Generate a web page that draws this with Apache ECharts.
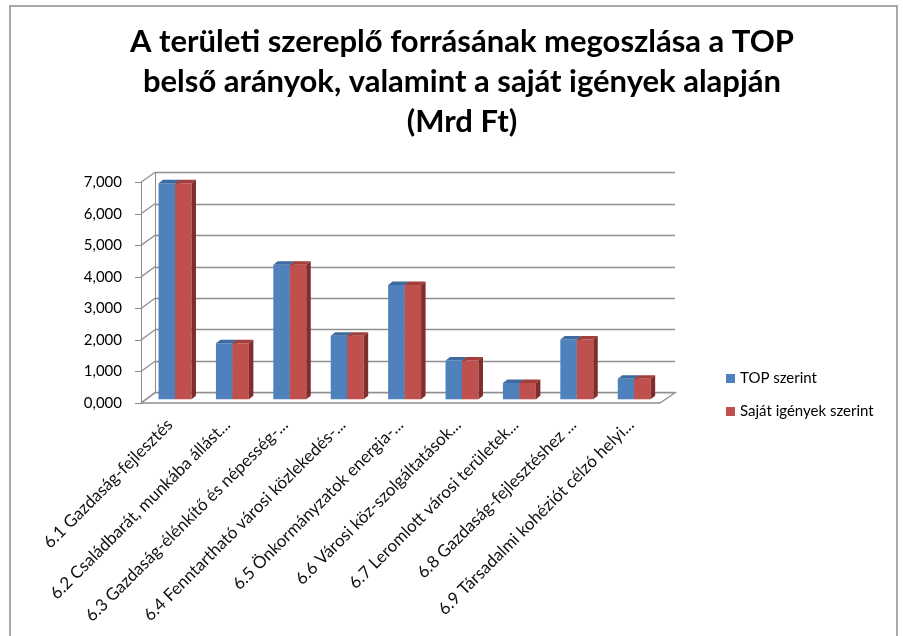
<!DOCTYPE html>
<html>
<head>
<meta charset="utf-8">
<script src="https://cdn.jsdelivr.net/npm/echarts@6/dist/echarts.min.js"></script>
<style>
  html, body { margin: 0; padding: 0; background: #fff; }
  #chart { width: 903px; height: 636px; }
</style>
</head>
<body>
<div id="chart"></div>
<script>
// adatok (Mrd Ft)
var categories = [
  '6.1 Gazdaság-fejlesztés',
  '6.2 Családbarát, munkába állást...',
  '6.3 Gazdaság-élénkítő és népesség-...',
  '6.4 Fenntartható városi közlekedés-...',
  '6.5 Önkormányzatok energia-...',
  '6.6 Városi köz-szolgáltatások...',
  '6.7 Leromlott városi területek...',
  '6.8 Gazdaság-fejlesztéshez ...',
  '6.9 Társadalmi kohéziót célzó helyi...'
];
var topSzerint = [6.86, 1.78, 4.27, 2.02, 3.63, 1.23, 0.52, 1.90, 0.65];
var sajatIgenyek = [6.86, 1.78, 4.27, 2.02, 3.63, 1.23, 0.52, 1.90, 0.65];
var yTicks = [0, 1, 2, 3, 4, 5, 6, 7];

var FONT = 'Lato, "Open Sans", sans-serif';
var chart = echarts.init(document.getElementById('chart'));

// 3D-s oszlop: előlap + tető + oldal
function bar3d(side, front, topc, sidec) {
  return function (params, api) {
    var idx = api.value(0);
    var top = api.coord([idx, api.value(1)]);
    var base = api.coord([idx, 0]);
    var bw = api.size([1, 0])[0] * 0.287;
    var x0 = side === 0 ? top[0] - bw : top[0];
    var x1 = x0 + bw;
    var dx = 4.5, dy = 3.5;
    return {
      type: 'group',
      children: [
        { type: 'rect', shape: { x: x0, y: top[1], width: bw, height: base[1] - top[1] },
          style: { fill: front } },
        { type: 'polygon', shape: { points: [[x0, top[1]], [x1, top[1]], [x1 + dx, top[1] - dy], [x0 + dx, top[1] - dy]] },
          style: { fill: topc } },
        { type: 'polygon', shape: { points: [[x1, top[1]], [x1 + dx, top[1] - dy], [x1 + dx, base[1] - dy], [x1, base[1]]] },
          style: { fill: sidec } }
      ]
    };
  };
}

var option = {
  backgroundColor: '#fff',
  animation: false,
  title: {
    text: 'A területi szereplő forrásának megoszlása a TOP\nbelső arányok, valamint a saját igények alapján\n(Mrd Ft)',
    left: 457, top: 17, textAlign: 'center',
    textStyle: { fontFamily: FONT, fontSize: 31, fontWeight: 'bold', color: '#000', lineHeight: 40 }
  },
  legend: {
    orient: 'vertical', left: 721, top: 366, itemGap: 18,
    itemWidth: 9, itemHeight: 9, icon: 'rect',
    textStyle: { fontFamily: FONT, fontSize: 15, color: '#000' },
    data: ['TOP szerint', 'Saját igények szerint']
  },
  grid: [
    // elülső tengely (feliratok)
    { left: 141, right: 243, top: 182.3, bottom: 233 },
    // hátsó fal (rácsvonalak)
    { left: 155, right: 228, top: 172.3, bottom: 243.3 },
    // oszlopok
    { left: 146.3, right: 240.1, top: 178.8, bottom: 236.7 }
  ],
  xAxis: [
    { type: 'category', gridIndex: 0, data: categories,
      axisLine: { show: false }, axisTick: { show: false },
      axisLabel: { rotate: 45, margin: 19, interval: 0, fontFamily: FONT, fontSize: 17, color: '#111' } },
    { type: 'category', gridIndex: 1, data: categories, show: false },
    { type: 'category', gridIndex: 2, data: categories, show: false }
  ],
  yAxis: [
    { type: 'value', gridIndex: 0, min: 0, max: 7, interval: 1,
      axisLine: { show: true, lineStyle: { color: '#8a8a8a' } },
      axisTick: { show: true, length: 6, lineStyle: { color: '#8a8a8a' } },
      splitLine: { show: false },
      axisLabel: { margin: 19, fontFamily: FONT, fontSize: 15, color: '#000',
        formatter: function (v) { return v.toFixed(3).replace('.', ','); } } },
    { type: 'value', gridIndex: 1, min: 0, max: 7, interval: 1,
      axisLine: { show: true, lineStyle: { color: '#8a8a8a' } },
      axisTick: { show: false }, axisLabel: { show: false },
      splitLine: { show: true, lineStyle: { color: '#8f8f8f', width: 1.3 } } },
    { type: 'value', gridIndex: 2, min: 0, max: 7, show: false }
  ],
  series: [
    { name: 'TOP szerint', type: 'custom', xAxisIndex: 2, yAxisIndex: 2,
      itemStyle: { color: '#4F81BD' },
      renderItem: bar3d(0, '#4F81BD', '#3D6A9F', '#355C8C'),
      encode: { x: 0, y: 1 },
      data: topSzerint.map(function (v, i) { return [i, v]; }), z: 5 },
    { name: 'Saját igények szerint', type: 'custom', xAxisIndex: 2, yAxisIndex: 2,
      itemStyle: { color: '#C0504D' },
      renderItem: bar3d(1, '#C0504D', '#A23F3C', '#7E2F2D'),
      encode: { x: 0, y: 1 },
      data: sajatIgenyek.map(function (v, i) { return [i, v]; }), z: 6 }
  ]
};
chart.setOption(option);

// oldalfal és padló vonalai a két tengelyből számolva
var lines = [];
var gray = { stroke: '#8f8f8f', lineWidth: 1.3, fill: null };
yTicks.forEach(function (t) {
  var f = chart.convertToPixel({ gridIndex: 0 }, [0, t]);
  var b = chart.convertToPixel({ gridIndex: 1 }, [0, t]);
  lines.push({ type: 'line', shape: { x1: 141, y1: f[1], x2: 155, y2: b[1] }, style: gray, z: 1 });
});
var f0 = chart.convertToPixel({ yAxisIndex: 0 }, 0);
var b0 = chart.convertToPixel({ yAxisIndex: 1 }, 0);
lines.push({ type: 'polygon', shape: { points: [[141, f0], [660, f0], [675, b0], [155, b0]] }, style: gray, z: 1 });
lines.push({ type: 'rect', shape: { x: 10, y: 6, width: 887, height: 640 },
  style: { stroke: '#8a8a8a', lineWidth: 1.5, fill: null }, z: 0 });
chart.setOption({ graphic: lines });
</script>
</body>
</html>
